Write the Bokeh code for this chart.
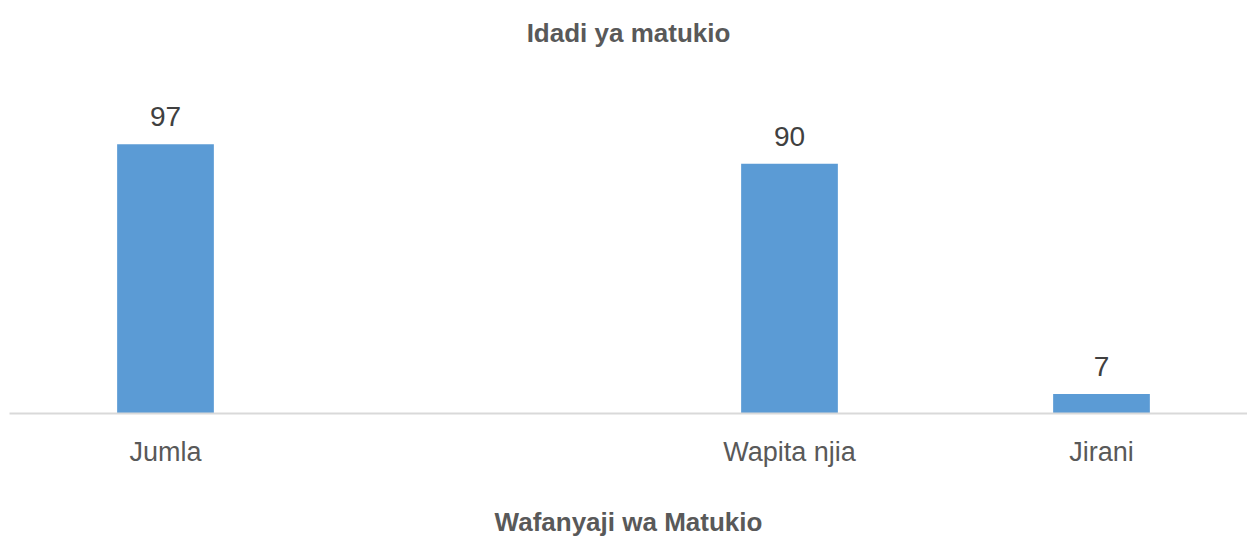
from bokeh.plotting import figure
from bokeh.models import Range1d, FixedTicker, ColumnDataSource, LabelSet, LinearAxis
from bokeh.core.properties import value
from bokeh.embed import file_html
from bokeh.resources import INLINE

categories = ["Jumla", "", "Wapita njia", "Jirani"]
values = [97, None, 90, 7]
title_text = "Idadi ya matukio"
x_title = "Wafanyaji wa Matukio"

FONT = "Liberation Sans"

xs = list(range(len(categories)))
vals = [float("nan") if v is None else v for v in values]
labels = ["" if v is None else str(v) for v in values]
src = ColumnDataSource(dict(x=xs, top=vals, lab=labels))

p = figure(width=1247, height=542, output_backend="svg", toolbar_location=None,
           x_range=Range1d(-0.5, -0.5 + 1238 / 312), y_range=Range1d(0, 120),
           y_axis_location=None, min_border_left=9, min_border_right=0,
           min_border_top=80, min_border_bottom=129)
p.outline_line_color = None
p.xgrid.visible = False
p.ygrid.visible = False
p.background_fill_color = "white"
p.border_fill_color = "white"

ax = p.below[0]  # the category axis

# chart title drawn as the label of a bare axis above the frame
top_ax = LinearAxis(ticker=FixedTicker(ticks=[]), axis_line_color=None,
                    major_tick_line_color=None, minor_tick_line_color=None,
                    major_tick_out=0, major_tick_in=0, minor_tick_out=0,
                    major_label_standoff=0, major_label_text_font_size="0px",
                    axis_label=title_text,
                    axis_label_text_font=FONT, axis_label_text_font_size="26px",
                    axis_label_text_font_style="bold", axis_label_text_color="#595959",
                    axis_label_standoff=33)
p.add_layout(top_ax, "above")

p.vbar(x="x", top="top", width=0.31, source=src, color="#5b9bd5", line_color=None)

ls = LabelSet(x="x", y="top", text="lab", source=src, text_align="center",
              text_baseline="alphabetic", y_offset=18, text_font=value(FONT),
              text_font_size=value("28px"), text_color="#404040")
p.add_layout(ls)

ax.ticker = FixedTicker(ticks=xs)
ax.major_label_overrides = {i: c for i, c in enumerate(categories)}
ax.major_label_text_font = FONT
ax.major_label_text_font_size = "27px"
ax.major_label_text_color = "#595959"
ax.major_label_standoff = 17
ax.major_tick_line_color = None
ax.minor_tick_line_color = None
ax.axis_line_color = "#d9d9d9"
ax.axis_line_width = 2
ax.axis_label = x_title
ax.axis_label_text_font = FONT
ax.axis_label_text_font_size = "26px"
ax.axis_label_text_font_style = "bold"
ax.axis_label_text_color = "#595959"
ax.axis_label_standoff = 37

open("out.html", "w").write(file_html(p, INLINE))
